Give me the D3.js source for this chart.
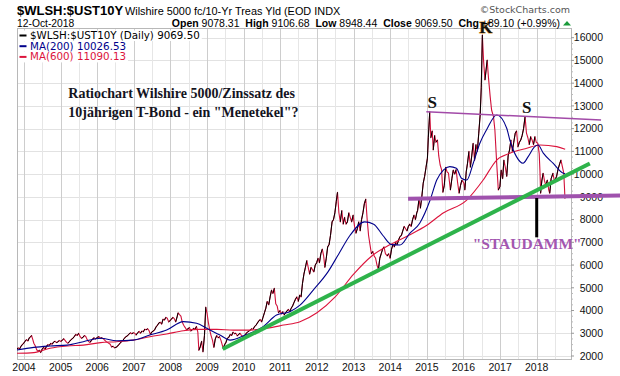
<!DOCTYPE html>
<html><head><meta charset="utf-8">
<script src="https://cdn.jsdelivr.net/npm/d3@7"></script>
<style>body{margin:0;background:#fff}svg{display:block}</style>
</head><body>
<svg id="c" width="620" height="376"></svg>
<script>
// ---------- DATA ----------
const yTickValues = [2000,3000,4000,5000,6000,7000,8000,9000,10000,11000,12000,13000,14000,15000,16000];
const xTickYears = ["2004","2005","2006","2007","2008","2009","2010","2011","2012","2013","2014","2015","2016","2017","2018"];

const ratioSeries = [
["2003-10-20",2280],["2003-11-03",2360],["2003-11-17",2300],["2003-12-01",2420],["2003-12-15",2500],["2003-12-29",2560],
["2004-01-12",2650],["2004-01-26",2720],["2004-02-09",2660],["2004-02-23",2800],["2004-03-08",2850],["2004-03-16",2900],["2004-03-29",2720],["2004-04-08",2560],["2004-04-22",2450],["2004-05-06",2280],["2004-05-20",2200],["2004-06-03",2250],["2004-06-15",2150],["2004-06-30",2300],["2004-07-15",2380],["2004-07-29",2300],["2004-08-12",2420],["2004-08-26",2500],["2004-09-10",2470],["2004-09-24",2560],["2004-10-08",2520],["2004-10-22",2610],["2004-11-05",2650],["2004-11-19",2590],["2004-12-03",2620],["2004-12-17",2680],
["2005-01-03",2640],["2005-01-18",2700],["2005-02-01",2760],["2005-02-15",2680],["2005-03-01",2600],["2005-03-15",2560],["2005-04-01",2650],["2005-04-15",2720],["2005-05-02",2780],["2005-05-16",2850],["2005-06-01",2950],["2005-06-15",2900],["2005-06-29",3000],["2005-07-14",2850],["2005-07-28",2780],["2005-08-11",2820],["2005-08-25",2900],["2005-09-08",2860],["2005-09-22",2720],["2005-10-06",2640],["2005-10-20",2600],["2005-11-03",2680],["2005-11-17",2760],["2005-12-01",2800],["2005-12-15",2750],
["2006-01-03",2820],["2006-01-18",2850],["2006-02-01",2780],["2006-02-15",2800],["2006-03-01",2760],["2006-03-15",2700],["2006-03-29",2640],["2006-04-12",2600],["2006-04-26",2560],["2006-05-10",2520],["2006-05-24",2400],["2006-06-07",2430],["2006-06-21",2360],["2006-07-06",2380],["2006-07-20",2420],["2006-08-03",2500],["2006-08-17",2560],["2006-09-01",2640],["2006-09-15",2700],["2006-09-29",2780],["2006-10-13",2850],["2006-10-27",2880],["2006-11-10",2950],["2006-11-27",3020],["2006-12-11",2980],["2006-12-27",3020],
["2007-01-10",3000],["2007-01-24",2920],["2007-02-07",3020],["2007-02-22",3080],["2007-03-08",3000],["2007-03-22",3100],["2007-04-05",3060],["2007-04-19",3180],["2007-05-03",3150],["2007-05-17",3200],["2007-06-01",3120],["2007-06-14",2950],["2007-06-28",3050],["2007-07-13",3100],["2007-07-27",3150],["2007-08-10",3280],["2007-08-24",3350],["2007-09-07",3450],["2007-09-21",3480],["2007-10-05",3400],["2007-10-19",3620],["2007-11-02",3580],["2007-11-16",3700],["2007-11-30",3660],["2007-12-14",3500],["2007-12-28",3560],
["2008-01-11",3620],["2008-01-25",3700],["2008-02-08",3640],["2008-02-22",3500],["2008-03-07",3720],["2008-03-17",3900],["2008-03-31",3820],["2008-04-14",3750],["2008-04-28",3480],["2008-05-12",3350],["2008-05-27",3250],["2008-06-10",3150],["2008-06-24",3200],["2008-07-08",3250],["2008-07-22",3100],["2008-08-05",3150],["2008-08-19",3220],["2008-09-02",3180],["2008-09-16",3300],["2008-09-30",3050],["2008-10-10",2250],["2008-10-24",2400],["2008-11-07",2650],["2008-11-20",2180],["2008-12-05",2900],["2008-12-18",4150],["2008-12-30",3900],
["2009-01-12",3500],["2009-01-26",3150],["2009-02-09",2900],["2009-02-23",2700],["2009-03-09",2380],["2009-03-23",2750],["2009-04-06",2900],["2009-04-20",2800],["2009-05-04",2850],["2009-05-18",2700],["2009-06-01",2480],["2009-06-10",2320],["2009-06-24",2500],["2009-07-08",2600],["2009-07-22",2780],["2009-08-05",2820],["2009-08-19",2950],["2009-09-02",2900],["2009-09-16",3050],["2009-09-30",2980],["2009-10-14",3000],["2009-10-28",2880],["2009-11-11",2950],["2009-11-25",3000],["2009-12-09",2900],["2009-12-28",2850],
["2010-01-11",2900],["2010-01-25",3000],["2010-02-08",3050],["2010-02-22",3100],["2010-03-08",3150],["2010-03-22",3200],["2010-04-05",3180],["2010-04-19",3300],["2010-05-03",3350],["2010-05-17",3450],["2010-06-01",3550],["2010-06-14",3600],["2010-06-28",3500],["2010-07-12",3700],["2010-07-26",3900],["2010-08-09",4100],["2010-08-23",4400],["2010-09-07",4250],["2010-09-21",4600],["2010-10-05",4900],["2010-10-19",4750],["2010-11-02",4980],["2010-11-16",4300],["2010-11-30",4200],["2010-12-14",3900],["2010-12-28",4000],
["2011-01-11",3850],["2011-01-25",3950],["2011-02-08",3800],["2011-02-22",3900],["2011-03-08",3980],["2011-03-22",4050],["2011-04-05",3950],["2011-04-19",4100],["2011-05-03",4200],["2011-05-17",4350],["2011-06-01",4500],["2011-06-15",4600],["2011-06-29",4400],["2011-07-13",4680],["2011-07-27",4600],["2011-08-10",5200],["2011-08-24",5600],["2011-09-08",5900],["2011-09-22",6200],["2011-10-06",5900],["2011-10-20",5600],["2011-11-03",5900],["2011-11-17",5800],["2011-12-01",5700],["2011-12-15",6000],["2011-12-29",6100],
["2012-01-12",6300],["2012-01-26",6100],["2012-02-09",6500],["2012-02-23",6700],["2012-03-08",6400],["2012-03-20",5900],["2012-04-03",6300],["2012-04-17",6800],["2012-05-01",6900],["2012-05-15",7300],["2012-05-31",7900],["2012-06-14",8000],["2012-06-28",8300],["2012-07-12",8800],["2012-07-24",9200],["2012-08-07",8300],["2012-08-21",7900],["2012-09-05",8400],["2012-09-19",7800],["2012-10-03",8100],["2012-10-17",7800],["2012-10-31",7900],["2012-11-14",8300],["2012-11-28",8100],["2012-12-12",7900],["2012-12-27",8200],
["2013-01-10",7700],["2013-01-24",7400],["2013-02-07",7600],["2013-02-21",7900],["2013-03-07",7500],["2013-03-21",8000],["2013-04-04",8300],["2013-04-18",8700],["2013-05-02",8900],["2013-05-16",8000],["2013-05-30",7300],["2013-06-13",6900],["2013-06-27",6500],["2013-07-11",6600],["2013-07-25",6400],["2013-08-08",6300],["2013-08-22",6000],["2013-09-05",5800],["2013-09-19",6300],["2013-10-03",6500],["2013-10-17",6700],["2013-10-31",6800],["2013-11-14",6500],["2013-12-02",6400],["2013-12-16",6500],["2013-12-31",6300],
["2014-01-14",6700],["2014-01-28",6900],["2014-02-11",6800],["2014-02-25",7000],["2014-03-11",6900],["2014-03-25",7100],["2014-04-08",7250],["2014-04-22",7300],["2014-05-06",7500],["2014-05-20",7700],["2014-06-03",7600],["2014-06-17",7500],["2014-07-01",7700],["2014-07-15",7800],["2014-07-29",7700],["2014-08-12",8000],["2014-08-26",8200],["2014-09-09",8000],["2014-09-23",8300],["2014-10-01",8400],["2014-10-15",8900],["2014-10-29",8500],["2014-11-12",9000],["2014-11-26",9600],["2014-12-10",9900],["2014-12-24",10300],
["2015-01-07",10700],["2015-01-16",11600],["2015-01-30",12740],["2015-02-10",11600],["2015-02-24",11900],["2015-03-06",11060],["2015-03-20",11700],["2015-04-02",11400],["2015-04-17",11500],["2015-04-30",10800],["2015-05-14",10400],["2015-05-28",10200],["2015-06-10",9200],["2015-06-24",9500],["2015-07-08",10300],["2015-07-22",10100],["2015-08-05",10040],["2015-08-24",9300],["2015-09-08",9800],["2015-09-22",10180],["2015-10-06",10000],["2015-10-20",10200],["2015-11-05",9600],["2015-11-19",9160],["2015-12-03",9500],["2015-12-17",9740],
["2016-01-06",9600],["2016-01-15",9300],["2016-01-29",10100],["2016-02-11",10480],["2016-02-25",11000],["2016-03-10",10300],["2016-03-24",10800],["2016-04-07",11360],["2016-04-21",10600],["2016-05-05",11300],["2016-05-19",11000],["2016-06-02",11800],["2016-06-16",12600],["2016-06-27",13800],["2016-07-08",16120],["2016-07-20",15000],["2016-08-03",14140],["2016-08-25",15020],["2016-09-06",14290],["2016-09-24",13410],["2016-10-08",12820],["2016-10-27",12530],["2016-11-10",11940],["2016-11-28",10480],["2016-12-14",9300],["2016-12-30",9450],
["2017-01-12",10180],["2017-01-26",9800],["2017-02-08",10620],["2017-02-22",10300],["2017-03-08",9900],["2017-03-22",10800],["2017-04-05",11060],["2017-04-19",11500],["2017-05-03",11000],["2017-05-17",11400],["2017-06-01",11800],["2017-06-14",11900],["2017-06-28",11200],["2017-07-12",11400],["2017-07-26",11500],["2017-08-09",11700],["2017-08-23",12000],["2017-09-07",12530],["2017-09-21",11800],["2017-10-05",11600],["2017-10-19",11300],["2017-11-02",11650],["2017-11-16",11500],["2017-11-30",11300],["2017-12-14",11650],["2017-12-28",11400],
["2018-01-12",11360],["2018-01-26",10900],["2018-02-02",10180],["2018-02-09",9160],["2018-02-21",9700],["2018-03-06",10040],["2018-03-20",9700],["2018-04-03",9500],["2018-04-17",9740],["2018-05-01",9300],["2018-05-11",9160],["2018-05-25",9800],["2018-06-12",10040],["2018-06-26",9700],["2018-07-18",9890],["2018-08-01",10200],["2018-08-20",10480],["2018-08-31",10620],["2018-09-14",10330],["2018-09-28",10040],["2018-10-04",9500],["2018-10-10",8940],["2018-10-12",9069.5]
];

const ma200Series = [
["2003-10-20",2260],["2004-04-08",2380],["2004-09-16",2440],["2005-03-08",2480],["2005-08-15",2630],["2006-02-03",2780],["2006-07-13",2670],["2006-12-24",2700],["2007-06-10",2920],["2007-11-24",3140],["2008-05-08",3510],["2008-09-17",3440],["2008-12-28",3220],["2009-05-08",2920],["2009-08-18",2700],["2010-01-15",2920],["2010-07-13",3290],["2010-11-24",3800],["2011-04-05",3950],["2011-07-16",4240],["2011-11-25",4900],["2012-04-20",5700],["2012-08-07",6500],["2012-11-25",7300],["2013-04-20",7900],["2013-07-20",7800],["2013-10-20",7300],["2014-01-15",6900],["2014-04-08",6880],["2014-07-17",7400],["2014-10-22",7840],["2015-02-03",8860],["2015-04-10",9740],["2015-06-15",10180],["2015-08-18",10330],["2015-10-23",10260],["2015-12-13",9820],["2016-02-03",9740],["2016-04-08",10480],["2016-06-13",11360],["2016-08-18",11940],["2016-11-28",12600],["2017-03-08",12020],["2017-04-08",11500],["2017-06-13",10770],["2017-08-18",10480],["2017-10-08",10770],["2017-12-13",11210],["2018-01-15",11280],["2018-03-08",10920],["2018-06-13",10480],["2018-09-23",10040],["2018-10-12",10026.53]
];

const ma600Series = [
["2003-10-20",2120],["2004-04-08",2150],["2004-09-16",2340],["2005-03-08",2440],["2005-08-15",2480],["2006-02-03",2590],["2006-07-13",2630],["2006-12-24",2700],["2007-06-10",2850],["2007-11-24",2970],["2008-05-08",3110],["2008-10-22",3170],["2009-04-08",3170],["2009-09-20",3140],["2010-03-08",3140],["2010-08-20",3220],["2011-02-03",3360],["2011-07-16",3510],["2012-01-01",3900],["2012-07-01",4600],["2013-01-01",5600],["2013-07-01",6400],["2014-01-01",6900],["2014-07-01",7300],["2015-01-01",7750],["2015-06-13",8290],["2016-02-03",8860],["2016-07-16",9740],["2016-11-28",10620],["2017-04-08",10920],["2017-09-24",11140],["2018-02-03",11280],["2018-07-20",11210],["2018-10-12",11090.13]
];

// annotation lines in data units
const greenTrend = [["2009-06-05",2310],["2019-06-15",10470]];
const purpleTop = [["2014-12-27",12744],["2019-10-05",12379]];
const purpleSupport = [["2014-06-28",8914],["2020-04-12",9060]];
const blackPillar = [["2018-01-01",8950],["2018-01-01",7220]];
const markLabels = [["S","2015-02-24",12894],["K","2016-08-13",16192],["S","2017-09-24",12674]];
const noteLines = ["Ratiochart Wilshire 5000/Zinssatz des","10jährigen T-Bond - ein \"Menetekel\"?"];
const noteAnchor = [["2005-03-18",13334],["2005-03-18",12525]];
const damLabel = ["\"STAUDAMM\"","2017-09-28",6693];

const legendRows = [["$WLSH:$UST10Y (Daily) 9069.50","#000"],["MA(200) 10026.53","#00008b"],["MA(600) 11090.13","#dc143c"]];

// ---------- CHART ----------
const parse = d3.utcParse("%Y-%m-%d");
const svg = d3.select("#c");
const P = {l:17, r:571, t:28.5, b:359.5};
const x = d3.scaleUtc().domain([parse("2004-01-01"), parse("2018-01-01")]).range([24, 536.7]);
const y = d3.scaleLinear().domain([2000,16000]).range([356, 37.7]);
const SANS = "'Liberation Sans', Arial, sans-serif";
const SERIF = "'Liberation Serif', 'Times New Roman', serif";

svg.append("rect").attr("width",620).attr("height",376).attr("fill","#fff");

// gridlines
const grid = svg.append("g");
yTickValues.forEach(v=>{
  grid.append("line").attr("x1",P.l).attr("x2",P.r).attr("y1",Math.round(y(v))+0.5).attr("y2",Math.round(y(v))+0.5)
    .attr("stroke","#e2e2e2").attr("stroke-width",1);
});
xTickYears.forEach(yr=>{
  const xm = Math.round(x(parse(yr+"-07-01")))+0.5;
  if (xm>P.l && xm<P.r) grid.append("line").attr("x1",xm).attr("x2",xm).attr("y1",P.t).attr("y2",P.b).attr("stroke","#e6e6e6");
  const xs = Math.round(x(parse(yr+"-01-01")))+0.5;
  grid.append("line").attr("x1",xs).attr("x2",xs).attr("y1",P.t).attr("y2",P.b).attr("stroke","#cdcdcd");
});
{
  const xm = Math.round(x(parse("2003-07-01")))+0.5;
  if (xm>P.l) grid.append("line").attr("x1",xm).attr("x2",xm).attr("y1",P.t).attr("y2",P.b).attr("stroke","#e6e6e6");
}

// frame
svg.append("rect").attr("x",P.l+0.5).attr("y",P.t).attr("width",P.r-P.l).attr("height",P.b-P.t)
  .attr("fill","none").attr("stroke","#b8b8b8");

// right axis ticks
const ax = svg.append("g");
yTickValues.forEach(v=>{
  ax.append("line").attr("x1",P.r).attr("x2",P.r+3).attr("y1",y(v)).attr("y2",y(v)).attr("stroke","#999");
  ax.append("text").attr("x",603).attr("y",y(v)).attr("dy","0.36em").attr("text-anchor","end")
    .attr("font-family",SANS).attr("font-size",10.5).attr("fill","#111").text(d3.format("d")(v));
});
d3.range(0,yTickValues.length-1).forEach(i=>{
  [0.25,0.5,0.75].forEach(f=>{
    const v = yTickValues[i]+f*(yTickValues[i+1]-yTickValues[i]);
    ax.append("line").attr("x1",P.r).attr("x2",P.r+2).attr("y1",y(v)).attr("y2",y(v)).attr("stroke","#bbb");
  });
});
xTickYears.forEach(yr=>{
  svg.append("text").attr("x",x(parse(yr+"-01-01"))).attr("y",370.5).attr("text-anchor","middle")
    .attr("font-family",SANS).attr("font-size",10.5).attr("fill","#111").text(yr);
});

// legend
const lg = svg.append("g");
legendRows.forEach((r,i)=>{
  const by = 39 + i*10.7;
  const t = lg.append("text").attr("x",30).attr("y",by).attr("font-family","'DejaVu Sans', Verdana, sans-serif")
    .attr("font-size",10.3).attr("fill",r[1]).text(r[0]);
  const w = t.node().getComputedTextLength();
  lg.insert("rect","text").attr("x",18).attr("y",by-8.5).attr("width",w+14).attr("height",10.5).attr("fill","#fff");
  lg.append("line").attr("x1",19.5).attr("x2",26.5).attr("y1",by-3.5).attr("y2",by-3.5).attr("stroke",r[1]).attr("stroke-width",2);
});

// clip
svg.append("clipPath").attr("id","pc").append("rect").attr("x",P.l).attr("y",P.t).attr("width",P.r-P.l).attr("height",P.b-P.t);
const plot = svg.append("g").attr("clip-path","url(#pc)");

const toPts = s => s.map(d=>({d:parse(d[0]), v:d[1]}));
const price = toPts(ratioSeries);
const ma200 = toPts(ma200Series);
const ma600 = toPts(ma600Series);

const line = d3.line().x(p=>x(p.d)).y(p=>y(p.v));
plot.append("path").attr("d",line(price)).attr("fill","none").attr("stroke","#d0103a").attr("stroke-width",1.1).attr("stroke-linejoin","round");
const up = d3.path();
for (let i=1;i<price.length;i++){
  if (price[i].v>price[i-1].v){
    up.moveTo(x(price[i-1].d), y(price[i-1].v));
    up.lineTo(x(price[i].d), y(price[i].v));
  }
}
plot.append("path").attr("d",up.toString()).attr("fill","none").attr("stroke","#000").attr("stroke-width",1);

const smooth = d3.line().x(p=>x(p.d)).y(p=>y(p.v)).curve(d3.curveMonotoneX);
plot.append("path").attr("d",smooth(ma600)).attr("fill","none").attr("stroke","#dc143c").attr("stroke-width",1.1);
plot.append("path").attr("d",smooth(ma200)).attr("fill","none").attr("stroke","#00008b").attr("stroke-width",1.1);

// annotations
const seg = s => s.map(d=>[x(parse(d[0])), y(d[1])]);
const lineRaw = d3.line();
svg.append("path").attr("d",lineRaw(seg(purpleTop))).attr("stroke","#a24aa8").attr("stroke-width",1.5).attr("fill","none");
svg.append("path").attr("d",lineRaw(seg(purpleSupport))).attr("stroke","#9f52ad").attr("stroke-width",4).attr("fill","none");
svg.append("path").attr("d",lineRaw(seg(greenTrend))).attr("stroke","#2eb34b").attr("stroke-width",4).attr("fill","none");
svg.append("path").attr("d",lineRaw(seg(blackPillar))).attr("stroke","#000").attr("stroke-width",3).attr("fill","none");

markLabels.forEach(m=>{
  svg.append("text").attr("x",x(parse(m[1]))).attr("y",y(m[2])).attr("text-anchor","middle")
    .attr("font-family",SERIF).attr("font-weight","bold").attr("font-size",17)
    .attr("fill","#111").attr("stroke", m[0]==="K" ? "#e0a040" : "none").attr("stroke-width",0.8)
    .attr("paint-order","stroke").text(m[0]);
});
noteLines.forEach((t,i)=>{
  svg.append("text").attr("x",x(parse(noteAnchor[i][0]))).attr("y",y(noteAnchor[i][1]))
    .attr("font-family",SERIF).attr("font-weight","bold").attr("font-size",14).attr("fill","#14141e").text(t);
});
svg.append("text").attr("x",x(parse(damLabel[1]))).attr("y",y(damLabel[2])).attr("text-anchor","middle")
  .attr("font-family",SERIF).attr("font-weight","bold").attr("font-size",15.5).attr("fill","#a356b0").text(damLabel[0]);

// header
svg.append("text").attr("x",17).attr("y",14.5).attr("font-family",SANS).attr("font-weight","bold").attr("font-size",13).attr("fill","#000").text("$WLSH:$UST10Y");
svg.append("text").attr("x",125).attr("y",14.5).attr("font-family",SANS).attr("font-size",10.9).attr("fill","#000").text("Wilshire 5000 fc/10-Yr Treas Yld (EOD INDX");
svg.append("text").attr("x",17).attr("y",26.5).attr("font-family",SANS).attr("font-size",10.3).attr("fill","#000").text("12-Oct-2018");
svg.append("text").attr("x",570).attr("y",13).attr("text-anchor","end").attr("font-family","'DejaVu Sans', Verdana, sans-serif").attr("font-size",9.5).attr("fill","#555").text("\u00A9StockCharts.com");
const ohlc = svg.append("text").attr("x",560).attr("y",26.5).attr("text-anchor","end").attr("font-family",SANS).attr("font-size",10.5).attr("fill","#000");
[["Open",1],[" 9078.31  ",0],["High",1],[" 9106.68  ",0],["Low",1],[" 8948.44  ",0],["Close",1],[" 9069.50  ",0],["Chg",1],[" +89.10 (+0.99%)",0]]
  .forEach(p=>ohlc.append("tspan").attr("font-weight",p[1]?"bold":"normal").attr("xml:space","preserve").text(p[0]));
ohlc.attr("style","white-space:pre");
svg.append("path").attr("d","M563,25.5 L567,21 L571,25.5 Z").attr("fill","#1a9a3a");
</script>
</body></html>
